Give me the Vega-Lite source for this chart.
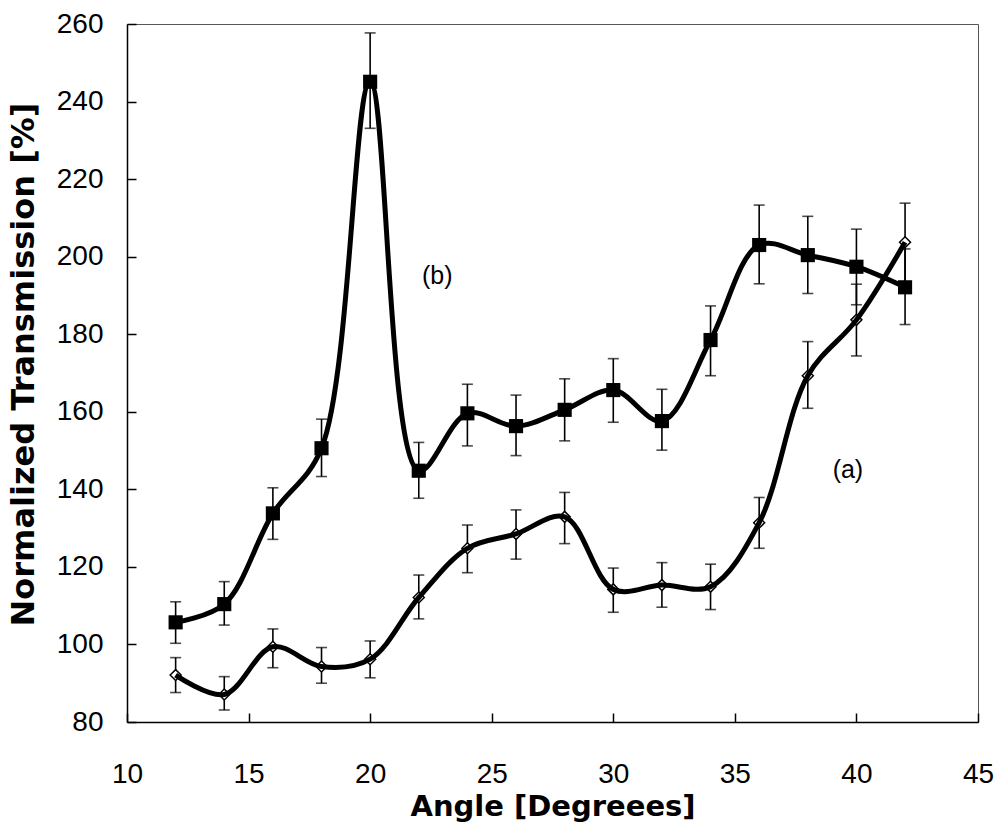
{
  "$schema": "https://vega.github.io/schema/vega-lite/v6.json",
  "width": 851,
  "height": 698,
  "autosize": {"type": "none"},
  "padding": {"left": 127, "top": 24, "right": 22, "bottom": 111},
  "background": "white",
  "config": {
    "view": {"stroke": "#555555", "strokeWidth": 1},
    "axis": {
      "grid": false,
      "domainColor": "#000000",
      "domainWidth": 1.5,
      "tickColor": "#000000",
      "tickWidth": 1.5,
      "tickSize": -9,
      "labelFont": "Liberation Sans",
      "labelFontSize": 28,
      "labelColor": "#000000",
      "labelFlush": false,
      "labelOverlap": false,
      "titleFont": "DejaVu Sans",
      "titleFontWeight": "bold",
      "titleColor": "#000000"
    },
    "axisY": {
      "labelPadding": 33,
      "titleFontSize": 32,
      "titleAngle": -90,
      "titleBaseline": "middle",
      "titleAlign": "center",
      "titleX": -104,
      "titleY": 340
    }
  },
  "datasets": {
    "pts": [
      {"series": "b", "angle": 12, "value": 105.7, "lo": 100.3, "hi": 111.0},
      {"series": "b", "angle": 14, "value": 110.4, "lo": 105.0, "hi": 116.2},
      {"series": "b", "angle": 16, "value": 133.8, "lo": 127.1, "hi": 140.4},
      {"series": "b", "angle": 18, "value": 150.6, "lo": 143.3, "hi": 158.1},
      {"series": "b", "angle": 20, "value": 245.1, "lo": 233.1, "hi": 257.7},
      {"series": "b", "angle": 22, "value": 144.8, "lo": 137.7, "hi": 152.1},
      {"series": "b", "angle": 24, "value": 159.6, "lo": 151.2, "hi": 167.1},
      {"series": "b", "angle": 26, "value": 156.3, "lo": 148.7, "hi": 164.3},
      {"series": "b", "angle": 28, "value": 160.5, "lo": 152.5, "hi": 168.5},
      {"series": "b", "angle": 30, "value": 165.6, "lo": 157.3, "hi": 173.7},
      {"series": "b", "angle": 32, "value": 157.6, "lo": 150.1, "hi": 165.8},
      {"series": "b", "angle": 34, "value": 178.5, "lo": 169.3, "hi": 187.3},
      {"series": "b", "angle": 36, "value": 203.0, "lo": 193.0, "hi": 213.3},
      {"series": "b", "angle": 38, "value": 200.4, "lo": 190.5, "hi": 210.4},
      {"series": "b", "angle": 40, "value": 197.4, "lo": 187.6, "hi": 207.1},
      {"series": "b", "angle": 42, "value": 192.1, "lo": 182.5, "hi": 202.0},
      {"series": "a", "angle": 12, "value": 92.1, "lo": 87.6, "hi": 96.6},
      {"series": "a", "angle": 14, "value": 87.1, "lo": 83.1, "hi": 91.7},
      {"series": "a", "angle": 16, "value": 99.4, "lo": 94.0, "hi": 104.0},
      {"series": "a", "angle": 18, "value": 94.3, "lo": 90.0, "hi": 99.2},
      {"series": "a", "angle": 20, "value": 96.2, "lo": 91.4, "hi": 100.9},
      {"series": "a", "angle": 22, "value": 112.1, "lo": 106.6, "hi": 117.9},
      {"series": "a", "angle": 24, "value": 124.8, "lo": 118.5, "hi": 130.8},
      {"series": "a", "angle": 26, "value": 128.5, "lo": 122.0, "hi": 134.7},
      {"series": "a", "angle": 28, "value": 132.9, "lo": 126.0, "hi": 139.2},
      {"series": "a", "angle": 30, "value": 114.2, "lo": 108.3, "hi": 119.7},
      {"series": "a", "angle": 32, "value": 115.3, "lo": 109.6, "hi": 121.1},
      {"series": "a", "angle": 34, "value": 114.9, "lo": 109.0, "hi": 120.7},
      {"series": "a", "angle": 36, "value": 131.4, "lo": 124.8, "hi": 137.9},
      {"series": "a", "angle": 38, "value": 169.3, "lo": 160.9, "hi": 178.1},
      {"series": "a", "angle": 40, "value": 183.7, "lo": 174.4, "hi": 192.9},
      {"series": "a", "angle": 42, "value": 203.7, "lo": 193.5, "hi": 213.8}
    ],
    "notes": [
      {"label": "(b)", "angle": 22.76, "value": 195.0},
      {"label": "(a)", "angle": 39.65, "value": 145.0}
    ]
  },
  "encoding": {
    "x": {
      "field": "angle",
      "type": "quantitative",
      "scale": {"domain": [10, 45], "nice": false, "zero": false},
      "axis": {
        "values": [10, 15, 20, 25, 30, 35, 40, 45],
        "labelPadding": 47,
        "title": "Angle [Degreees]",
        "titleFontSize": 29,
        "titleBaseline": "middle",
        "titleY": 84
      }
    }
  },
  "layer": [
    {
      "data": {"name": "pts"},
      "mark": {"type": "rule", "strokeWidth": 1.6, "color": "#000000"},
      "encoding": {
        "y": {
          "field": "lo",
          "type": "quantitative",
          "scale": {"domain": [80, 260], "nice": false, "zero": false},
          "axis": {"values": [80, 100, 120, 140, 160, 180, 200, 220, 240, 260], "title": "Normalized Transmission [%]"}
        },
        "y2": {"field": "hi"}
      }
    },
    {
      "data": {"name": "pts"},
      "mark": {"type": "tick", "orient": "horizontal", "size": 11, "thickness": 1.6, "color": "#000000"},
      "encoding": {
        "y": {"field": "lo", "type": "quantitative", "axis": {"values": [80, 100, 120, 140, 160, 180, 200, 220, 240, 260], "title": "Normalized Transmission [%]"}}
      }
    },
    {
      "data": {"name": "pts"},
      "mark": {"type": "tick", "orient": "horizontal", "size": 11, "thickness": 1.6, "color": "#000000"},
      "encoding": {
        "y": {"field": "hi", "type": "quantitative", "axis": {"values": [80, 100, 120, 140, 160, 180, 200, 220, 240, 260], "title": "Normalized Transmission [%]"}}
      }
    },
    {
      "data": {"name": "pts"},
      "transform": [{"filter": "datum.series === 'b'"}],
      "mark": {"type": "point", "shape": "square", "filled": true, "size": 200, "color": "#000000", "opacity": 1},
      "encoding": {
        "y": {"field": "value", "type": "quantitative", "axis": {"values": [80, 100, 120, 140, 160, 180, 200, 220, 240, 260], "title": "Normalized Transmission [%]"}}
      }
    },
    {
      "data": {"name": "pts"},
      "transform": [{"filter": "datum.series === 'a'"}],
      "mark": {"type": "point", "shape": "diamond", "filled": true, "fill": "#ffffff", "stroke": "#000000", "strokeWidth": 1.5, "size": 120, "opacity": 1},
      "encoding": {
        "y": {"field": "value", "type": "quantitative", "axis": {"values": [80, 100, 120, 140, 160, 180, 200, 220, 240, 260], "title": "Normalized Transmission [%]"}}
      }
    },
    {
      "data": {"name": "pts"},
      "mark": {"type": "line", "interpolate": "catmull-rom", "strokeWidth": 5, "color": "#000000"},
      "encoding": {
        "y": {"field": "value", "type": "quantitative", "axis": {"values": [80, 100, 120, 140, 160, 180, 200, 220, 240, 260], "title": "Normalized Transmission [%]"}},
        "detail": {"field": "series"}
      }
    },
    {
      "data": {"name": "notes"},
      "mark": {"type": "text", "font": "Liberation Sans", "fontSize": 25, "color": "#000000", "align": "center", "baseline": "middle"},
      "encoding": {
        "y": {"field": "value", "type": "quantitative", "axis": {"values": [80, 100, 120, 140, 160, 180, 200, 220, 240, 260], "title": "Normalized Transmission [%]"}},
        "text": {"field": "label"}
      }
    }
  ]
}
